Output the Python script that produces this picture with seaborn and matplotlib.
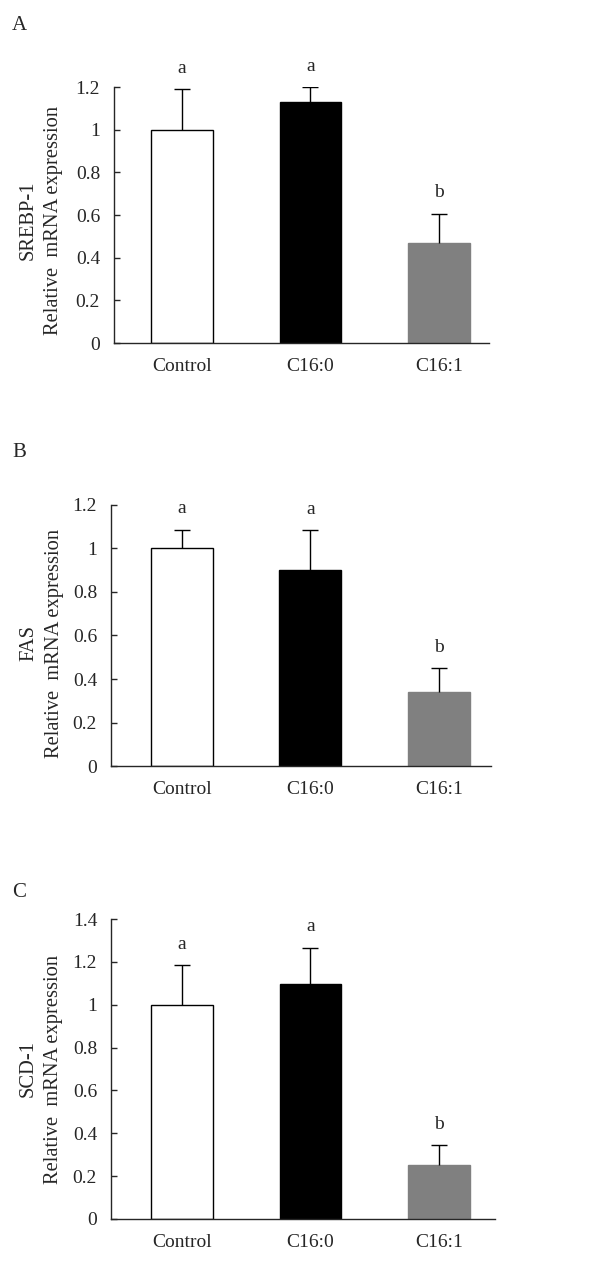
import numpy as np
import pandas as pd
import matplotlib
matplotlib.use("Agg")
import matplotlib.pyplot as plt
import seaborn as sns

# Valeurs (moyenne + erreur standard, barre haute)
groups = ["Control", "C16:0", "C16:1"]
letters = ["a", "a", "b"]

srebp_mean = [1.00, 1.13, 0.47]
srebp_err = [0.19, 0.07, 0.135]

fas_mean = [1.00, 0.90, 0.34]
fas_err = [0.087, 0.183, 0.11]

scd_mean = [1.00, 1.095, 0.25]
scd_err = [0.185, 0.17, 0.095]

bar_colors = ["white", "black", "#808080"]
edge_colors = ["black", "black", "#808080"]

sns.set_theme(style="ticks")
plt.rcParams["font.family"] = ["Liberation Serif", "DejaVu Serif"]
plt.rcParams["axes.linewidth"] = 1.0

fig = plt.figure(figsize=(6, 12.78), dpi=100)

panels = [
    # (lettre, gène, moyennes, erreurs, ymax, rect, xlim, x/y du label, y de la lettre)
    ("A", "SREBP-1", srebp_mean, srebp_err, 1.2, [0.190, 0.7316, 0.625, 0.2003], (-0.53, 2.39), (-0.135, 0.48), 0.980),
    ("B", "FAS", fas_mean, fas_err, 1.2, [0.185, 0.4006, 0.633, 0.2043], (-0.55, 2.405), (-0.125, 0.47), 0.646),
    ("C", "SCD-1", scd_mean, scd_err, 1.4, [0.185, 0.0462, 0.640, 0.2347], (-0.55, 2.435), (-0.125, 0.50), 0.302),
]

for tag, gene, mean, err, ymax, rect, xlim, ylab_xy, tag_y in panels:
    ax = fig.add_axes(rect)
    df = pd.DataFrame({"group": groups, "value": mean})
    sns.barplot(data=df, x="group", y="value", hue="group", palette=bar_colors,
                saturation=1, width=0.48, legend=False, ax=ax, linewidth=1.0)
    for patch, ec in zip(ax.patches, edge_colors):
        patch.set_edgecolor(ec)

    x = np.arange(len(groups))
    cont = ax.errorbar(x, mean, yerr=[np.zeros(len(mean)), err], fmt="none",
                       ecolor="black", elinewidth=1.0, capsize=6, capthick=1.0, zorder=1)
    for cap in cont.lines[1]:
        if np.allclose(cap.get_ydata(), mean):
            cap.set_visible(False)

    tops = np.array(mean) + np.array(err)
    for xi, top, lab in zip(x, tops, letters):
        ax.annotate(lab, (xi, top), xytext=(0, 9), textcoords="offset points",
                    ha="center", va="bottom", fontsize=14)

    ax.set_xlim(*xlim)
    ax.set_ylim(0, ymax)
    ticks = np.arange(0, ymax + 0.01, 0.2)
    ax.set_yticks(ticks)
    ax.set_yticklabels(["{:g}".format(round(v, 1)) for v in ticks])
    ax.tick_params(axis="y", direction="in", length=4, width=1.0, pad=10, labelsize=14)
    ax.tick_params(axis="x", length=0, pad=11, labelsize=14)
    ax.set_xlabel("")
    ax.set_ylabel(gene + "\nRelative  mRNA expression", fontsize=14.8, linespacing=1.45)
    ax.yaxis.set_label_coords(*ylab_xy)
    sns.despine(ax=ax)

    fig.text(0.02, tag_y, tag, fontsize=15, va="center", ha="left")

fig.savefig("out.png", dpi=100, facecolor="white")
